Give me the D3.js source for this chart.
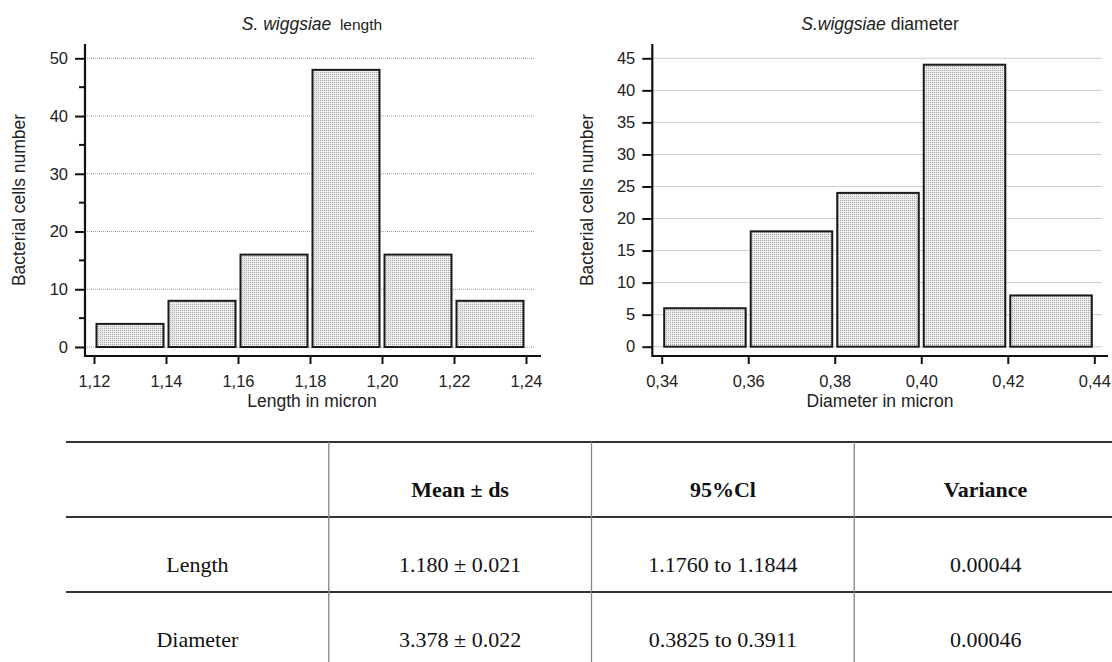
<!DOCTYPE html>
<html>
<head>
<meta charset="utf-8">
<script src="https://cdn.jsdelivr.net/npm/d3@7"></script>
<style>
  body { margin: 0; background: #fff; }
  svg { display: block; }
  .sans { font-family: "Liberation Sans", Arial, sans-serif; fill: #222; }
  .serif { font-family: "Liberation Serif", "Times New Roman", serif; fill: #111; }
</style>
</head>
<body>
<svg id="chart" width="1112" height="662"></svg>
<script>
// ---- data ----
const lengthBins = [1.12, 1.14, 1.16, 1.18, 1.20, 1.22, 1.24];
const lengthCounts = [4, 8, 16, 48, 16, 8];
const lengthYTicks = [0, 10, 20, 30, 40, 50];

const diamBins = [0.34, 0.36, 0.38, 0.40, 0.42, 0.44];
const diamCounts = [6, 18, 24, 44, 8];
const diamYTicks = [0, 5, 10, 15, 20, 25, 30, 35, 40, 45];

const tableHeader = ['', 'Mean \u00b1 ds', '95%Cl', 'Variance'];
const tableRows = [
  ['Length', '1.180 \u00b1 0.021', '1.1760 to 1.1844', '0.00044'],
  ['Diameter', '3.378 \u00b1 0.022', '0.3825 to 0.3911', '0.00046']
];

const svg = d3.select('#chart');

// dotted fill for the bars
const defs = svg.append('defs');
const pat = defs.append('pattern')
    .attr('id', 'dots')
    .attr('width', 2).attr('height', 2)
    .attr('patternUnits', 'userSpaceOnUse');
pat.append('rect').attr('width', 2).attr('height', 2).attr('fill', '#eeeeee');
pat.append('rect').attr('width', 1).attr('height', 1).attr('fill', '#a4a4a4');

function fmtComma(d) {
  return d3.format('.2f')(d).replace('.', ',');
}

// draws one histogram panel
function histogram(opt) {
  const x = d3.scaleLinear().domain([opt.bins[0], opt.bins[opt.bins.length - 1]]).range(opt.xRange);
  const y = d3.scaleLinear().domain([0, opt.yTicks[opt.yTicks.length - 1]]).range(opt.yRange);
  const g = svg.append('g');

  // grid lines
  g.selectAll('line.grid')
    .data(opt.yTicks)
    .enter()
    .append('line')
    .attr('x1', opt.axisX).attr('x2', opt.gridEnd)
    .attr('y1', d => y(d)).attr('y2', d => y(d))
    .attr('stroke', '#9a9a9a')
    .attr('stroke-width', 1)
    .attr('stroke-dasharray', '1,1');

  // bars
  const binData = opt.counts.map((c, i) => ({ x0: opt.bins[i], x1: opt.bins[i + 1], count: c }));
  g.selectAll('rect.bar')
    .data(binData)
    .enter()
    .append('rect')
    .attr('x', d => x(d.x0) + 2.5)
    .attr('width', d => x(d.x1) - x(d.x0) - 5)
    .attr('y', d => y(d.count))
    .attr('height', d => y(0) - y(d.count))
    .attr('fill', 'url(#dots)')
    .attr('stroke', '#1a1a1a')
    .attr('stroke-width', 2);

  // y axis
  const yAxis = d3.axisLeft(y).tickValues(opt.yTicks).tickSize(10).tickPadding(7).tickSizeOuter(0);
  const ya = g.append('g')
    .attr('transform', 'translate(' + opt.axisX + ',0)')
    .call(yAxis);
  ya.select('.domain').remove();
  ya.selectAll('.tick line').attr('stroke', '#111').attr('stroke-width', 2);
  ya.selectAll('.tick text').attr('class', 'sans').style('font-size', '16.5px');

  if (opt.minor) {
    g.selectAll('line.minor')
      .data(opt.minor)
      .enter()
      .append('line')
      .attr('x1', opt.axisX - 6).attr('x2', opt.axisX)
      .attr('y1', d => y(d)).attr('y2', d => y(d))
      .attr('stroke', '#111').attr('stroke-width', 2);
  }

  // x axis
  const xAxis = d3.axisBottom(x).tickValues(opt.bins).tickSize(8).tickPadding(11).tickSizeOuter(0).tickFormat(fmtComma);
  const xa = g.append('g')
    .attr('transform', 'translate(0,' + opt.axisBottom + ')')
    .call(xAxis);
  xa.select('.domain').remove();
  xa.selectAll('.tick line').attr('stroke', '#111').attr('stroke-width', 2);
  xa.selectAll('.tick text').attr('class', 'sans').style('font-size', '16.5px');

  // axis lines
  g.append('path')
    .attr('d', 'M' + opt.axisX + ',' + opt.axisTop + 'V' + opt.axisBottom + 'H' + opt.xAxisEnd)
    .attr('fill', 'none')
    .attr('stroke', '#111')
    .attr('stroke-width', 2.2);

  // labels
  const cx = (opt.xRange[0] + opt.xRange[1]) / 2;
  g.append('text')
    .attr('class', 'sans')
    .attr('x', cx + 2).attr('y', 407)
    .attr('text-anchor', 'middle')
    .style('font-size', '17.5px')
    .text(opt.xLabel);

  g.append('text')
    .attr('class', 'sans')
    .attr('transform', 'translate(' + opt.yLabelX + ',' + ((opt.axisTop + opt.axisBottom) / 2) + ') rotate(-90)')
    .attr('text-anchor', 'middle')
    .style('font-size', '17.5px')
    .text('Bacterial cells number');

  const t = g.append('text')
    .attr('class', 'sans')
    .attr('x', opt.titleX).attr('y', 30)
    .attr('text-anchor', 'middle')
    .style('font-size', '17.5px');
  t.append('tspan').style('font-style', 'italic').text(opt.titleItalic);
  t.append('tspan').style('font-size', opt.titleRestSize).text(opt.titleRest);
}

histogram({
  bins: lengthBins, counts: lengthCounts, yTicks: lengthYTicks,
  minor: [5, 15, 25, 35, 45],
  xRange: [94, 526], yRange: [347, 58.3],
  axisX: 85, axisTop: 44, axisBottom: 356, xAxisEnd: 541, gridEnd: 535,
  xLabel: 'Length in micron', yLabelX: 25,
  titleX: 312, titleItalic: 'S. wiggsiae', titleRest: '\u00a0 length', titleRestSize: '15.5px'
});

histogram({
  bins: diamBins, counts: diamCounts, yTicks: diamYTicks,
  xRange: [661.7, 1094.3], yRange: [346.7, 58.3],
  axisX: 652.3, axisTop: 44, axisBottom: 356, xAxisEnd: 1108, gridEnd: 1102,
  xLabel: 'Diameter in micron', yLabelX: 593,
  titleX: 880, titleItalic: 'S.wiggsiae', titleRest: ' diameter', titleRestSize: '17.5px'
});

// ---- stats table ----
const colX = d3.scaleLinear().domain([0, 4]).range([66, 1117]);
const rowY = [442, 517, 592, 667];
const tbl = svg.append('g');

tbl.selectAll('line.h')
  .data(rowY.slice(0, 3))
  .enter()
  .append('line')
  .attr('x1', colX(0)).attr('x2', 1112)
  .attr('y1', d => d).attr('y2', d => d)
  .attr('stroke', '#333').attr('stroke-width', 1.8);

tbl.selectAll('line.v')
  .data([1, 2, 3])
  .enter()
  .append('line')
  .attr('x1', d => colX(d)).attr('x2', d => colX(d))
  .attr('y1', rowY[0]).attr('y2', 662)
  .attr('stroke', '#888').attr('stroke-width', 1.3);

const allRows = [tableHeader].concat(tableRows);
allRows.forEach((row, r) => {
  tbl.selectAll(null)
    .data(row)
    .enter()
    .append('text')
    .attr('class', 'serif')
    .attr('x', (d, i) => (colX(i) + colX(i + 1)) / 2)
    .attr('y', r === 0 ? 497 : (r === 1 ? 572 : 647))
    .attr('text-anchor', 'middle')
    .style('font-size', '22px')
    .style('font-weight', r === 0 ? 'bold' : 'normal')
    .text(d => d);
});
</script>
</body>
</html>
